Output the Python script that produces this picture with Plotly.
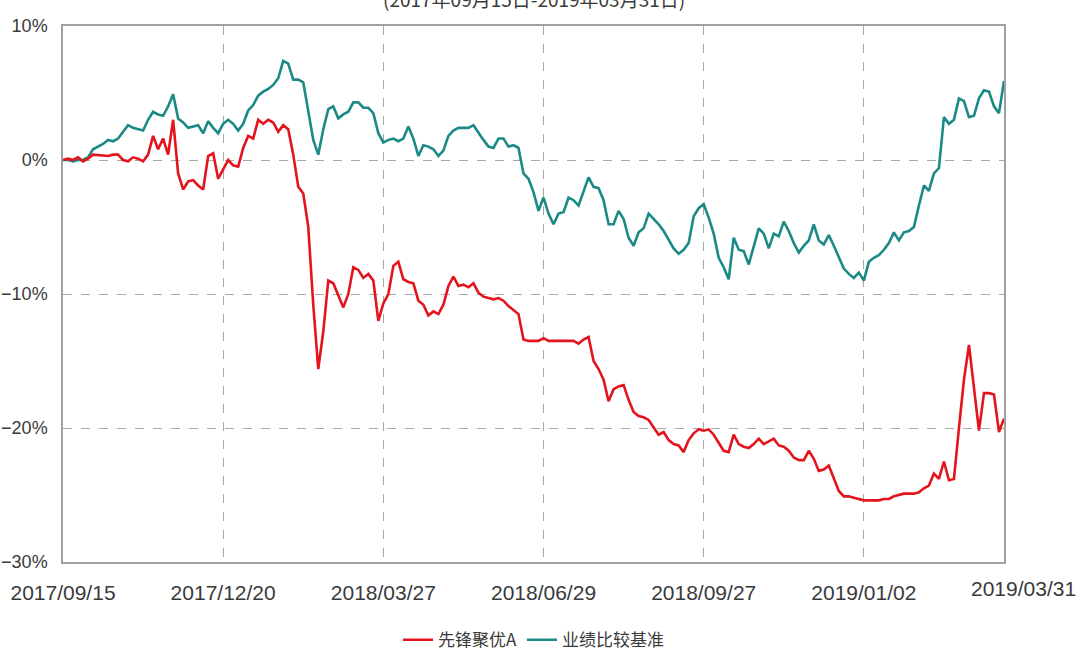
import plotly.graph_objects as go

# ---- data (cumulative return, %) ----
fund_name = "先锋聚优A"
bench_name = "业绩比较基准"
title_text = "(2017年09月15日-2019年03月31日)"

tick_pos = [0, 32, 64, 96, 128, 160, 188]
tick_labels = ["2017/09/15", "2017/12/20", "2018/03/27", "2018/06/29",
               "2018/09/27", "2019/01/02", "2019/03/31"]

fund = [
    0.0, 0.1, 0.0, 0.2, -0.1, 0.1, 0.4, 0.35, 0.3, 0.3,
    0.4, 0.4, 0.0, -0.1, 0.2, 0.1, -0.1, 0.4, 1.8, 0.8,
    1.6, 0.4, 3.0, -1.0, -2.2, -1.6, -1.5, -1.9, -2.2, 0.3,
    0.5, -1.4, -0.7, 0.0, -0.4, -0.5, 0.9, 1.8, 1.6, 3.0,
    2.7, 3.0, 2.8, 2.1, 2.6, 2.3, 0.4, -2.0, -2.5, -5.0,
    -10.8, -15.6, -12.8, -9.0, -9.2, -10.1, -11.0, -10.0, -8.0, -8.2,
    -8.8, -8.5, -9.0, -12.0, -10.7, -10.0, -7.9, -7.6, -8.9, -9.1,
    -9.2, -10.5, -10.8, -11.6, -11.3, -11.5, -10.8, -9.4, -8.7, -9.4,
    -9.3, -9.5, -9.2, -9.9, -10.2, -10.3, -10.4, -10.3, -10.5, -10.9,
    -11.2, -11.5, -13.4, -13.5, -13.5, -13.5, -13.3, -13.5, -13.5, -13.5,
    -13.5, -13.5, -13.5, -13.7, -13.4, -13.2, -15.0, -15.6, -16.4, -18.0,
    -17.1, -16.9, -16.8, -17.9, -18.8, -19.1, -19.2, -19.4, -20.0, -20.5,
    -20.3, -20.9, -21.2, -21.3, -21.8, -20.9, -20.4, -20.1, -20.2, -20.1,
    -20.5, -21.1, -21.7, -21.8, -20.5, -21.2, -21.4, -21.5, -21.2, -20.8,
    -21.2, -21.0, -20.8, -21.3, -21.4, -21.7, -22.2, -22.4, -22.4, -21.7,
    -22.3, -23.2, -23.1, -22.8, -23.8, -24.7, -25.1, -25.1, -25.2, -25.3,
    -25.4, -25.4, -25.4, -25.4, -25.3, -25.3, -25.1, -25.0, -24.9, -24.9,
    -24.9, -24.8, -24.5, -24.3, -23.4, -23.8, -22.5, -23.9, -23.8, -20.0,
    -16.4, -13.8, -16.8, -20.2, -17.4, -17.4, -17.5, -20.3, -19.3,
]

bench = [
    0.0, 0.0, -0.1, 0.0, 0.0, 0.2, 0.8, 1.0, 1.2, 1.5,
    1.4, 1.6, 2.1, 2.6, 2.4, 2.3, 2.2, 3.0, 3.6, 3.4,
    3.3, 4.0, 4.9, 3.1, 2.8, 2.4, 2.5, 2.6, 2.0, 2.9,
    2.4, 2.0, 2.7, 3.0, 2.7, 2.2, 2.7, 3.7, 4.1, 4.8,
    5.1, 5.3, 5.6, 6.1, 7.4, 7.2, 6.0, 6.0, 5.8, 3.8,
    1.5, 0.4, 2.3, 3.8, 4.0, 3.1, 3.4, 3.6, 4.3, 4.3,
    3.9, 3.9, 3.5, 2.0, 1.3, 1.5, 1.6, 1.4, 1.6, 2.5,
    1.6, 0.3, 1.1, 1.0, 0.8, 0.3, 0.7, 1.8, 2.2, 2.4,
    2.4, 2.4, 2.6, 2.0, 1.5, 1.0, 0.9, 1.6, 1.6, 1.0,
    1.1, 0.9, -1.0, -1.4, -2.4, -3.8, -2.8, -4.0, -4.8, -4.0,
    -3.9, -2.8, -3.0, -3.4, -2.3, -1.3, -2.0, -2.1, -3.0, -4.8,
    -4.8, -3.8, -4.4, -5.8, -6.4, -5.4, -5.1, -4.0, -4.4, -4.8,
    -5.3, -6.0, -6.6, -7.0, -6.7, -6.2, -4.2, -3.6, -3.3, -4.3,
    -5.5, -7.3, -8.0, -8.9, -5.8, -6.7, -6.8, -7.8, -6.4, -5.1,
    -5.5, -6.6, -5.5, -5.7, -4.6, -5.3, -6.2, -6.9, -6.4, -6.0,
    -4.8, -6.0, -6.3, -5.6, -6.4, -7.3, -8.1, -8.5, -8.8, -8.4,
    -9.0, -7.6, -7.3, -7.1, -6.7, -6.2, -5.4, -6.0, -5.4, -5.3,
    -5.0, -3.4, -1.9, -2.3, -1.0, -0.6, 3.2, 2.7, 3.0, 4.6,
    4.4, 3.2, 3.3, 4.6, 5.2, 5.1, 4.0, 3.5, 5.9,
]

x_idx = list(range(len(fund)))

RED = "#e3141b"
TEAL = "#1b8a86"
TXT = "#3a3a3a"

fig = go.Figure()
fig.add_trace(go.Scatter(x=x_idx, y=bench, mode="lines", name=bench_name,
                         line=dict(color=TEAL, width=2.6), legendrank=2))
fig.add_trace(go.Scatter(x=x_idx, y=fund, mode="lines", name=fund_name,
                         line=dict(color=RED, width=2.6), legendrank=1))

fig.update_layout(
    width=1081, height=656,
    margin=dict(l=63, r=77, t=26, b=94, autoexpand=False),
    paper_bgcolor="white", plot_bgcolor="white",
    font=dict(family="Liberation Sans, Noto Sans CJK SC, sans-serif", color=TXT),
    showlegend=True,
    legend=dict(orientation="h", x=0.5, xanchor="center", y=-0.146, yanchor="middle",
                font=dict(size=17, family="Noto Sans CJK SC, Liberation Sans", color=TXT),
                itemwidth=30, tracegroupgap=0),
    annotations=[
        dict(text=title_text, xref="paper", yref="paper", x=0.5, y=1.022,
             xanchor="center", yanchor="bottom", showarrow=False,
             font=dict(size=19, family="Noto Sans CJK SC, Liberation Sans", color=TXT)),
        dict(text=tick_labels[-1], xref="paper", yref="paper", x=1.0786, y=-0.025,
             xanchor="right", yanchor="top", showarrow=False,
             font=dict(size=21, color=TXT)),
    ],
)

fig.update_xaxes(
    range=[0, tick_pos[-1]], automargin=False,
    tickmode="array", tickvals=tick_pos[:-1], ticktext=tick_labels[:-1],
    tickfont=dict(size=21, color=TXT),
    showgrid=True, gridcolor="#a8a8a8", griddash="dash", gridwidth=1,
    showline=True, linecolor="#a0a0a0", linewidth=1.5, mirror=True,
    ticks="", zeroline=False, ticklabelstandoff=11,
)
fig.update_yaxes(
    range=[-30, 10], automargin=False,
    tickmode="linear", tick0=-30, dtick=10, ticksuffix="%",
    tickfont=dict(size=18, color=TXT),
    showgrid=True, gridcolor="#a8a8a8", griddash="dash", gridwidth=1,
    showline=True, linecolor="#a0a0a0", linewidth=1.5, mirror=True,
    ticks="", zeroline=False, ticklabelstandoff=10,
)

fig.write_html("out.html", config={"displayModeBar": False},
               post_script="document.body.style.margin='0';")
